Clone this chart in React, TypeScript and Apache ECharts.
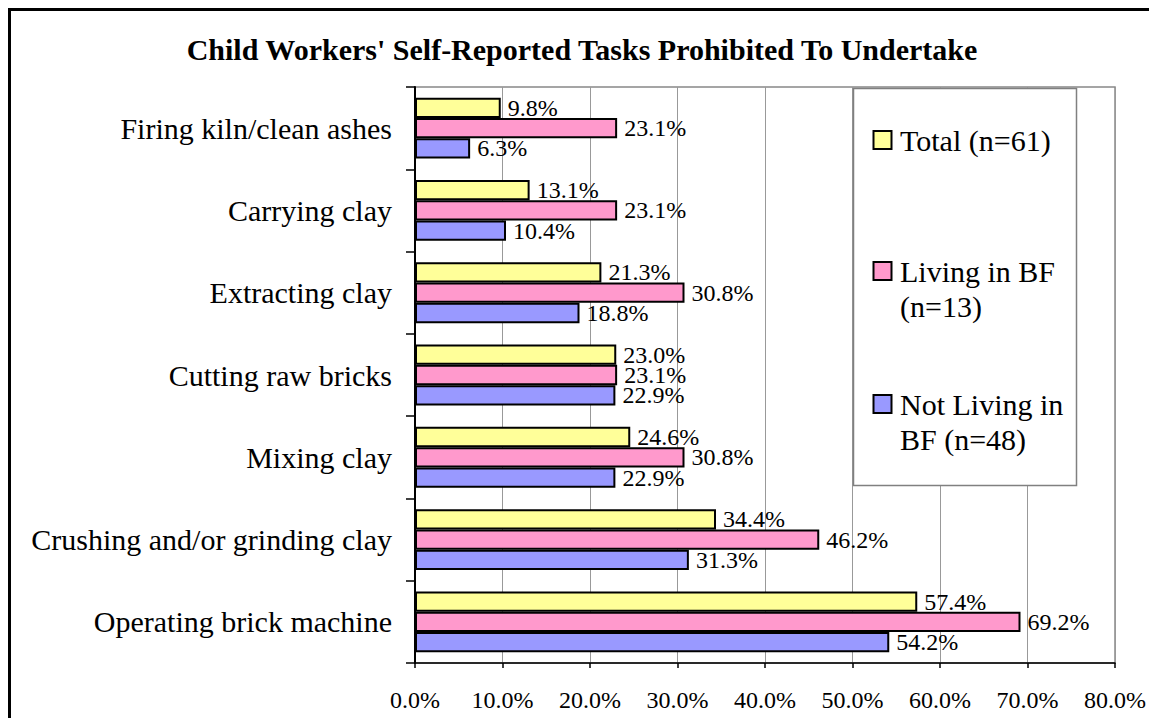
import React, { useEffect, useRef } from 'react';
import * as echarts from 'echarts';

const chartTitle = "Child Workers' Self-Reported Tasks Prohibited To Undertake";
const categories = [
  'Firing kiln/clean ashes',
  'Carrying clay',
  'Extracting clay',
  'Cutting raw bricks',
  'Mixing clay',
  'Crushing and/or grinding clay',
  'Operating brick machine',
];
const totalValues = [9.8, 13.1, 21.3, 23.0, 24.6, 34.4, 57.4];
const livingValues = [23.1, 23.1, 30.8, 23.1, 30.8, 46.2, 69.2];
const notLivingValues = [6.3, 10.4, 18.8, 22.9, 22.9, 31.3, 54.2];
const seriesNames = ['Total (n=61)', 'Living in BF (n=13)', 'Not Living in BF (n=48)'];
const legendLines = [['Total (n=61)'], ['Living in BF', '(n=13)'], ['Not Living in', 'BF (n=48)']];
const xMin = 0;
const xMax = 80;
const xInterval = 10;

const FONT = '"Liberation Serif", "Times New Roman", Times, serif';
const COLORS = ['#FFFF99', '#FF99CC', '#9999FF'];

export default function App() {
  const ref = useRef<HTMLDivElement>(null);
  useEffect(() => {
    if (!ref.current) return;
    const chart = echarts.init(ref.current, null, { renderer: 'svg' });
    const valueSets = [totalValues, livingValues, notLivingValues];
    const legendCenters = [140, 271, 404];
    const lineH = 35.5;
    const graphics: any[] = [
      {
        type: 'rect',
        silent: true,
        z: 0,
        shape: { x: 9.5, y: 9.5, width: 1300, height: 900 },
        style: { fill: 'none', stroke: '#000', lineWidth: 3 },
      },
      {
        type: 'rect',
        z: 100,
        shape: { x: 853.5, y: 88.5, width: 223, height: 397 },
        style: { fill: '#fff', stroke: '#808080', lineWidth: 1.5 },
      },
    ];
    legendLines.forEach((lines, i) => {
      graphics.push({
        type: 'rect',
        z: 101,
        shape: { x: 873.5, y: legendCenters[i] - 9, width: 18, height: 18 },
        style: { fill: COLORS[i], stroke: '#000', lineWidth: 2 },
      });
      lines.forEach((t, j) => {
        graphics.push({
          type: 'text',
          z: 101,
          x: 900,
          y: legendCenters[i] + j * lineH,
          style: {
            text: t,
            fontFamily: FONT,
            fontSize: 30,
            fill: '#000',
            align: 'left',
            verticalAlign: 'middle',
          },
        });
      });
    });

    chart.setOption({
      animation: false,
      backgroundColor: '#fff',
      title: {
        text: chartTitle,
        left: 582,
        top: 34,
        padding: 0,
        textAlign: 'center',
        textStyle: { fontFamily: FONT, fontSize: 30, fontWeight: 'bold', color: '#000' },
      },
      grid: {
        left: 415,
        right: 30,
        top: 87,
        bottom: 55,
        show: true,
        borderColor: '#888',
        borderWidth: 1.5,
        backgroundColor: 'transparent',
      },
      xAxis: {
        type: 'value',
        min: xMin,
        max: xMax,
        interval: xInterval,
        axisLine: { show: true, lineStyle: { color: '#000', width: 1.5 } },
        axisTick: { show: true, length: 5, lineStyle: { color: '#000', width: 1.5 } },
        axisLabel: {
          formatter: (v: number) => v.toFixed(1) + '%',
          fontFamily: FONT,
          fontSize: 24,
          color: '#000',
          margin: 25,
        },
        splitLine: { show: true, lineStyle: { color: '#999', width: 1 } },
      },
      yAxis: {
        type: 'category',
        data: categories,
        inverse: true,
        axisLine: { show: true, lineStyle: { color: '#000', width: 2 } },
        axisTick: { show: true, length: 9, lineStyle: { color: '#000', width: 1.5 } },
        axisLabel: { fontFamily: FONT, fontSize: 30, color: '#000', margin: 23 },
        splitLine: { show: false },
      },
      series: valueSets.map((vals, i) => ({
        name: seriesNames[i],
        type: 'bar',
        data: vals,
        barGap: '0%',
        barCategoryGap: '26%',
        itemStyle: { color: COLORS[i], borderColor: '#000', borderWidth: 2 },
        label: {
          show: true,
          position: 'right',
          distance: 7,
          formatter: (p: any) => Number(p.value).toFixed(1) + '%',
          fontFamily: FONT,
          fontSize: 24,
          color: '#000',
        },
      })),
      graphic: graphics,
    });
    return () => chart.dispose();
  }, []);
  return (
    <div
      ref={ref}
      style={{ position: 'fixed', left: 0, top: 0, width: 1149, height: 718, background: '#fff' }}
    />
  );
}
